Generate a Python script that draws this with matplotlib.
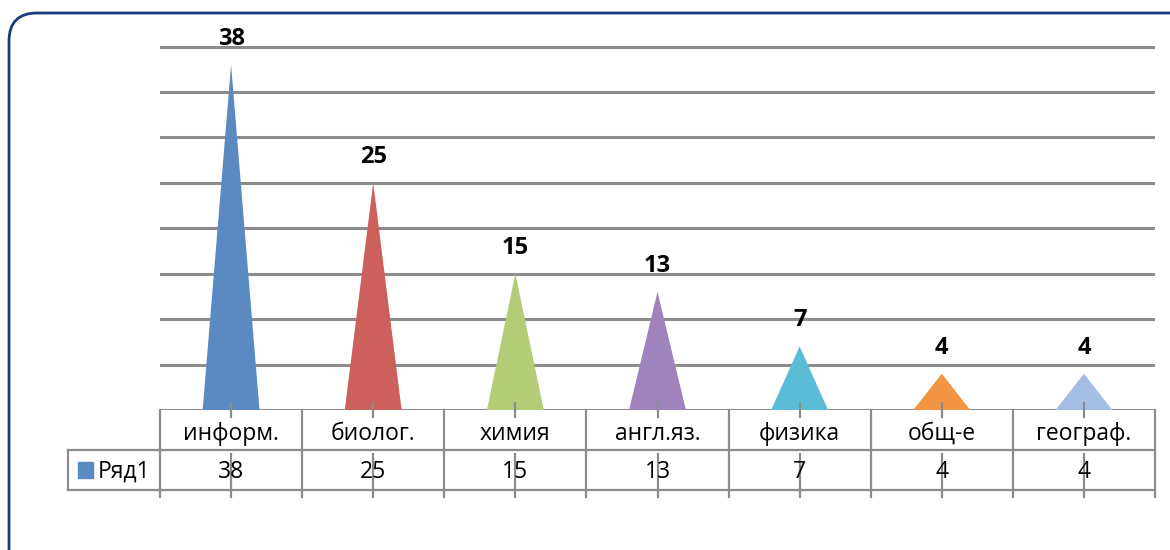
import matplotlib
matplotlib.use("Agg")
import matplotlib.pyplot as plt
from matplotlib.patches import FancyBboxPatch, Rectangle

plt.rcParams['font.family'] = ['Open Sans', 'DejaVu Sans']

categories = ["информ.", "биолог.", "химия", "англ.яз.", "физика", "общ-е", "географ."]
values = [38, 25, 15, 13, 7, 4, 4]
series_name = "Ряд1"
colors = ["#5B8AC3", "#CD5F5C", "#B3CC75", "#9E83BD", "#5BBCD6", "#F39644", "#A5BDE5"]

W, H = 1170, 550
fig = plt.figure(figsize=(W / 100, H / 100), dpi=100)

def fx(px):
    return px / W

def fy(py):
    return 1 - py / H

# rounded border (right and bottom run off the picture)
border = FancyBboxPatch((fx(9), fy(620)), fx(1240 - 9), (620 - 13) / H,
                        boxstyle="round,pad=0,rounding_size=0.024",
                        transform=fig.transFigure, fill=False,
                        edgecolor="#1B3A7A", linewidth=2.0, mutation_aspect=W / H)
fig.patches.append(border)

grid_c = "#8C8C8C"
left_px, right_px = 160, 1155
base_px = 410
ppu = (410 - 46.5) / 40.0
ytop = 41.0
top_px = base_px - ytop * ppu

ax = fig.add_axes([fx(left_px), fy(base_px), fx(right_px - left_px), (base_px - top_px) / H])
n = len(categories)
ax.set_xlim(-0.5, n - 0.5)
ax.set_ylim(0, ytop)
for s in ax.spines.values():
    s.set_visible(False)
ax.set_xticks([])
ax.set_yticks([])
for v in range(0, 41, 5):
    ax.axhline(v, color=grid_c, lw=2.2, zorder=1)

w = 0.4
for i, (v, c) in enumerate(zip(values, colors)):
    ax.fill([i - w / 2, i, i + w / 2], [0, v, 0], color=c, zorder=2, lw=0)
    ax.text(i, v + 1.55, str(v), ha="center", va="bottom", fontsize=17,
            fontweight="bold", color="black", zorder=3)

# data table
tab_bottom_px = 490
tax = fig.add_axes([fx(left_px), fy(tab_bottom_px), fx(right_px - left_px), (tab_bottom_px - base_px) / H])
tax.set_xlim(-0.5, n - 0.5)
tax.set_ylim(2, 0)
tax.axis("off")
lc = grid_c
ext = 7 / 40
left_cell = -0.5 - (160 - 68) / ((right_px - left_px) / n)
for k in range(n + 1):
    tax.plot([k - 0.5, k - 0.5], [0, 2 + ext], color=lc, lw=1.6, clip_on=False)
for yy in (1, 2):
    tax.plot([left_cell, n - 0.5], [yy, yy], color=lc, lw=1.6, clip_on=False)
tax.plot([left_cell, left_cell], [1, 2], color=lc, lw=1.6, clip_on=False)
for i in range(n):
    tax.plot([i, i], [-ext, ext], color=lc, lw=1.6, clip_on=False)
    tax.plot([i, i], [1.1, 2 + ext], color=lc, lw=1.6, clip_on=False)
    tax.text(i, 0.6, categories[i], ha="center", va="center", fontsize=16.5, color="black")
    tax.text(i, 1.55, str(values[i]), ha="center", va="center", fontsize=16.5, color="black")

unit = (right_px - left_px) / n
tax.add_patch(Rectangle((left_cell + 10 / unit, 1.3), 15 / unit, 0.4, color=colors[0],
                        clip_on=False, transform=tax.transData))
tax.text(left_cell + 30 / unit, 1.55, series_name, ha="left", va="center", fontsize=16.5,
         color="black", clip_on=False)

fig.savefig("out.png", dpi=100)
